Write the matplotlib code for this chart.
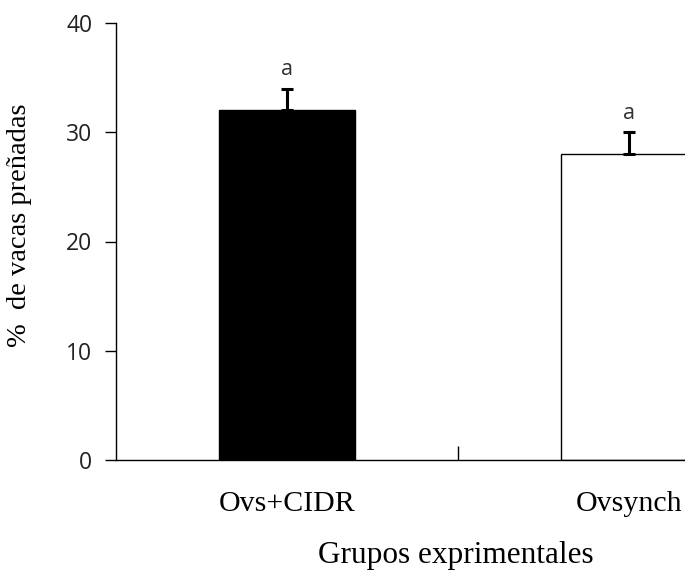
import matplotlib
matplotlib.use("Agg")
from matplotlib import pyplot as plt

# data
groups = ["Ovs+CIDR", "Ovsynch"]
pregnant_pct = [32, 28]
err_up = [2, 2]
letters = ["a", "a"]

def plotFunc():
    fig = plt.figure(figsize=(6.85, 5.73), dpi=100)
    # axes runs past the right edge of the figure, as in the original (cropped)
    ax = fig.add_axes([116 / 685, 113 / 573, 684 / 685, 437 / 573])

    x = list(range(len(groups)))
    ax.bar(x, pregnant_pct, width=0.4, color=["black", "white"],
           edgecolor="black", linewidth=1.0, zorder=2)
    ax.errorbar(x, pregnant_pct, yerr=[[0, 0], err_up], fmt="none",
                ecolor="black", elinewidth=2.2, capsize=4.5, capthick=2.2, zorder=3)
    for xi, yi, e, t in zip(x, pregnant_pct, err_up, letters):
        ax.text(xi, yi + e + 1.25, t, ha="center", va="baseline",
                fontsize=15.5, color="#333333", family="Open Sans")

    ax.set_xlim(-0.5, 1.5)
    ax.set_ylim(0, 40)
    ax.set_yticks([0, 10, 20, 30, 40])
    ax.set_xticks([0.5])
    ax.set_xticklabels([""])
    ax.tick_params(axis="x", direction="in", length=10, width=1)
    ax.tick_params(axis="y", direction="out", length=8, width=1, pad=9,
                   labelsize=16.5, labelcolor="#222222")
    for lbl in ax.get_yticklabels():
        lbl.set_family("Open Sans")
    for s in ["top", "right"]:
        ax.spines[s].set_visible(False)
    ax.spines["left"].set_linewidth(1.0)
    ax.spines["bottom"].set_linewidth(1.0)

    serif = "Liberation Serif"
    for xi, g in zip(x, groups):
        ax.text(xi, -0.1, g, transform=ax.get_xaxis_transform(), ha="center",
                va="center", fontsize=21.5, family=serif)
    fig.text(456 / 685, 1 - 555 / 573, "Grupos exprimentales", ha="center",
             va="center", fontsize=22.5, family=serif)
    fig.text(20 / 685, 1 - 225 / 573, "%  de vacas preñadas", rotation=90,
             ha="center", va="center", fontsize=20.5, family=serif)

    fig.savefig("out.png", dpi=100)

if __name__ == "__main__":
    plotFunc()
